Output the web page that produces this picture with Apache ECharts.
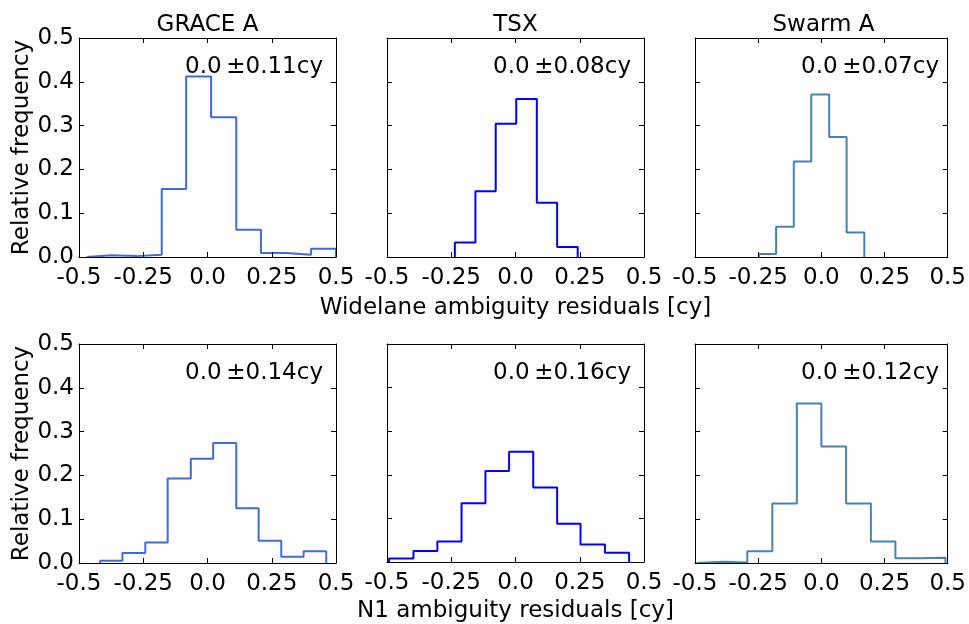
<!DOCTYPE html>
<html>
<head>
<meta charset="utf-8">
<script src="https://cdn.jsdelivr.net/npm/echarts@6/dist/echarts.min.js"></script>
<style>
  html, body { margin: 0; padding: 0; background: #fff; }
  #chart { width: 969px; height: 624px; }
</style>
</head>
<body>
<div id="chart"></div>
<script>
// satellites (columns) and tick labels
const satellites = ['GRACE A', 'TSX', 'Swarm A'];
const xTickLabels = ['-0.5', '-0.25', '0.0', '0.25', '0.5'];
const yTickLabels = ['0.0', '0.1', '0.2', '0.3', '0.4', '0.5'];

// widelane residual histograms (bin edges in cy, relative frequency per bin)
const wlGraceEdges = [-0.470, -0.373, -0.276, -0.178, -0.083, 0.014, 0.112, 0.208, 0.306, 0.403, 0.500];
const wlGraceFreq = [0.004, 0.002, 0.005, 0.155, 0.412, 0.319, 0.062, 0.009, 0.005, 0.019];
const wlTsxEdges = [-0.236, -0.156, -0.077, 0.003, 0.083, 0.162, 0.242];
const wlTsxFreq = [0.033, 0.150, 0.304, 0.361, 0.124, 0.023];
const wlSwarmEdges = [-0.247, -0.179, -0.109, -0.040, 0.031, 0.100, 0.170];
const wlSwarmFreq = [0.007, 0.069, 0.218, 0.371, 0.274, 0.056];
const wlSigma = ['0.11', '0.08', '0.07'];

// N1 residual histograms
const n1GraceEdges = [-0.418, -0.331, -0.242, -0.155, -0.065, 0.022, 0.112, 0.199, 0.287, 0.374, 0.462];
const n1GraceFreq = [0.005, 0.023, 0.047, 0.193, 0.238, 0.274, 0.125, 0.051, 0.014, 0.027];
const n1TsxEdges = [-0.492, -0.397, -0.304, -0.210, -0.117, -0.025, 0.069, 0.162, 0.253, 0.348, 0.442];
const n1TsxFreq = [0.008, 0.025, 0.047, 0.135, 0.209, 0.253, 0.171, 0.088, 0.040, 0.021];
const n1SwarmEdges = [-0.494, -0.390, -0.293, -0.194, -0.097, 0.000, 0.098, 0.196, 0.293, 0.390, 0.491];
const n1SwarmFreq = [0.003, 0.001, 0.027, 0.136, 0.364, 0.266, 0.136, 0.049, 0.011, 0.012];
const n1Sigma = ['0.14', '0.16', '0.12'];

const colors = ['#4169e1', '#0000ff', '#4682b4'];
const FONT = 'DejaVu Sans';
const FS = 23;

const panels = [
  { edges: wlGraceEdges, freq: wlGraceFreq, sigma: wlSigma[0], col: 0, row: 0 },
  { edges: wlTsxEdges, freq: wlTsxFreq, sigma: wlSigma[1], col: 1, row: 0 },
  { edges: wlSwarmEdges, freq: wlSwarmFreq, sigma: wlSigma[2], col: 2, row: 0 },
  { edges: n1GraceEdges, freq: n1GraceFreq, sigma: n1Sigma[0], col: 0, row: 1 },
  { edges: n1TsxEdges, freq: n1TsxFreq, sigma: n1Sigma[1], col: 1, row: 1 },
  { edges: n1SwarmEdges, freq: n1SwarmFreq, sigma: n1Sigma[2], col: 2, row: 1 }
];
const xNames = ['Widelane ambiguity residuals [cy]', 'N1 ambiguity residuals [cy]'];

// layout
const lefts = [79, 387, 695];
const tops = [38, 344];
const W = 257, H = 219;

// outline of a step histogram: up at the first edge, across each bin, down at the last edge
function stepPoints(edges, freq) {
  const pts = [[edges[0], 0]];
  freq.forEach((f, i) => pts.push([edges[i], f]));
  pts.push([edges[edges.length - 1], 0]);
  return pts;
}

const grid = [], xAxis = [], yAxis = [], series = [], graphic = [];

panels.forEach((p, i) => {
  grid.push({ left: lefts[p.col], top: tops[p.row], width: W, height: H });
  const tick = { show: true, inside: true, length: 5, lineStyle: { color: '#000', width: 1 } };
  const line = { show: true, onZero: false, lineStyle: { color: '#000', width: 1 } };
  const xBase = { type: 'value', gridIndex: i, min: -0.5, max: 0.5, interval: 0.25, z: 5,
    axisLine: line, axisTick: tick, splitLine: { show: false } };
  const yBase = { type: 'value', gridIndex: i, min: 0, max: 0.5, interval: 0.1, z: 5,
    axisLine: line, axisTick: tick, splitLine: { show: false } };

  const xb = Object.assign({}, xBase, {
    position: 'bottom',
    axisLabel: { show: true, margin: 10, color: '#000', fontFamily: FONT, fontSize: FS,
      showMinLabel: true, showMaxLabel: true, hideOverlap: false,
      formatter: (v, idx) => xTickLabels[idx] }
  });
  if (p.col === 1) {
    Object.assign(xb, { name: xNames[p.row], nameLocation: 'middle', nameGap: p.row === 0 ? 40 : 38,
      nameTextStyle: { color: '#000', fontFamily: FONT, fontSize: FS } });
  }
  xAxis.push(xb);
  xAxis.push(Object.assign({}, xBase, { position: 'top', axisLabel: { show: false } }));

  const yl = Object.assign({}, yBase, {
    position: 'left',
    axisLabel: { show: p.col === 0, margin: 5, color: '#000', fontFamily: FONT, fontSize: FS,
      formatter: (v, idx) => yTickLabels[idx] }
  });
  if (p.col === 0) {
    Object.assign(yl, { name: 'Relative frequency', nameLocation: 'middle', nameGap: 45,
      nameTextStyle: { color: '#000', fontFamily: FONT, fontSize: FS } });
  }
  yAxis.push(yl);
  yAxis.push(Object.assign({}, yBase, { position: 'right', axisLabel: { show: false } }));

  series.push({
    type: 'line', xAxisIndex: 2 * i, yAxisIndex: 2 * i, step: 'end',
    data: stepPoints(p.edges, p.freq), symbol: 'none', clip: true,
    lineStyle: { color: colors[p.col], width: 2 }, animation: false
  });

  graphic.push({
    type: 'text', x: lefts[p.col] + W - 13, y: tops[p.row] + 29,
    style: { text: '0.0\u2009\u00b10' + p.sigma.slice(1) + 'cy', fill: '#000',
      font: FS + 'px "' + FONT + '"', align: 'right', verticalAlign: 'middle' }
  });
});

satellites.forEach((s, c) => {
  graphic.push({
    type: 'text', x: lefts[c] + W / 2, y: 25,
    style: { text: s, fill: '#000', font: FS + 'px "' + FONT + '"', align: 'center', verticalAlign: 'middle' }
  });
});

const chart = echarts.init(document.getElementById('chart'));
chart.setOption({
  animation: false,
  backgroundColor: '#fff',
  grid, xAxis, yAxis, series, graphic
});
</script>
</body>
</html>
